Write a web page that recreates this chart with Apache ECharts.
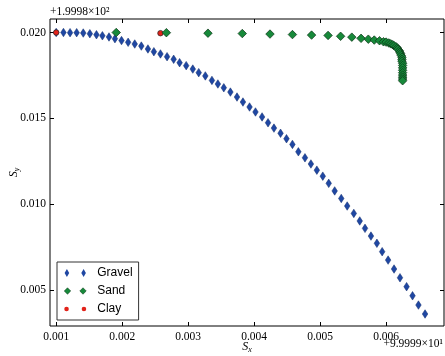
<!DOCTYPE html>
<html>
<head>
<meta charset="utf-8">
<script src="https://cdn.jsdelivr.net/npm/echarts@6/dist/echarts.min.js"></script>
<style>
  html, body { margin: 0; padding: 0; background: #fff; }
  #chart { width: 445px; height: 356px; }
</style>
</head>
<body>
<div id="chart"></div>
<script>
// values shown relative to the axis offsets (+9.9999e1 on x, +1.9998e2 on y)
const gravelX = [0.00100, 0.00111, 0.00121, 0.00131, 0.00141, 0.00151, 0.00161, 0.00170, 0.00180, 0.00189,
  0.00199, 0.00209, 0.00219, 0.00229, 0.00239, 0.00248, 0.00258, 0.00268, 0.00278, 0.00287,
  0.00297, 0.00307, 0.00316, 0.00326, 0.00336, 0.00345, 0.00354, 0.00364, 0.00374, 0.00383,
  0.00393, 0.00402, 0.00412, 0.00421, 0.00430, 0.00440, 0.00449, 0.00458, 0.00467, 0.00477,
  0.00486, 0.00495, 0.00504, 0.00513, 0.00522, 0.00532, 0.00541, 0.00551, 0.00560, 0.00568,
  0.00577, 0.00586, 0.00594, 0.00603, 0.00612, 0.00621, 0.00631, 0.00640, 0.00649, 0.00659];
const gravelY = [0.02000, 0.02000, 0.01999, 0.01999, 0.01997, 0.01993, 0.01987, 0.01981, 0.01974, 0.01964,
  0.01953, 0.01943, 0.01933, 0.01921, 0.01904, 0.01888, 0.01875, 0.01859, 0.01844, 0.01824,
  0.01807, 0.01787, 0.01766, 0.01747, 0.01721, 0.01700, 0.01678, 0.01653, 0.01624, 0.01595,
  0.01566, 0.01537, 0.01508, 0.01474, 0.01443, 0.01413, 0.01381, 0.01348, 0.01305, 0.01270,
  0.01234, 0.01198, 0.01163, 0.01121, 0.01077, 0.01033, 0.00989, 0.00946, 0.00902, 0.00859,
  0.00814, 0.00772, 0.00723, 0.00674, 0.00622, 0.00571, 0.00519, 0.00466, 0.00412, 0.00360];

const sandX = [0.00191, 0.00267, 0.00330, 0.00382, 0.00424, 0.00458, 0.00487, 0.00512, 0.00531, 0.00548,
  0.00562, 0.00573, 0.00582, 0.00590, 0.00596, 0.00600, 0.00604, 0.00607, 0.00610, 0.00612,
  0.00615, 0.00617, 0.00618, 0.00620, 0.00621, 0.00622, 0.00623, 0.00624, 0.00624, 0.00624,
  0.00625, 0.00625, 0.00625, 0.00625, 0.00625, 0.00625, 0.00625, 0.00625, 0.00625];
const sandY = [0.02000, 0.01999, 0.01996, 0.01994, 0.01991, 0.01988, 0.01985, 0.01983, 0.01978, 0.01973,
  0.01966, 0.01961, 0.01956, 0.01952, 0.01946, 0.01944, 0.01939, 0.01934, 0.01929, 0.01923,
  0.01917, 0.01910, 0.01902, 0.01894, 0.01885, 0.01876, 0.01866, 0.01856, 0.01844, 0.01833,
  0.01821, 0.01808, 0.01794, 0.01780, 0.01766, 0.01752, 0.01740, 0.01729, 0.01719];

const clayX = [0.00100, 0.00258];
const clayY = [0.02000, 0.01996];

const xTicks = [0.001, 0.002, 0.003, 0.004, 0.005, 0.006];
const yTicks = [0.005, 0.010, 0.015, 0.020];

const zip = (xs, ys) => xs.map((x, i) => [x, ys[i]]);

const serif = 'Liberation Serif';
const xRange = { min: 0.000906, max: 0.006877 };
const yRange = { min: 0.0029, max: 0.020787 };

const blue = '#1f47a3', green = '#17893a', red = '#e2231a';

const tick = (vals) => ({ show: true, inside: true, length: 4, customValues: vals,
  lineStyle: { color: '#000', width: 1 } });

const subName = (letter) => ({
  name: '{s|S}{b|' + letter + '}',
  nameLocation: 'middle',
  nameMoveOverlap: false,
  nameTextStyle: { rich: {
    s: { fontFamily: serif, fontStyle: 'italic', fontSize: 12, color: '#000' },
    b: { fontFamily: serif, fontStyle: 'italic', fontSize: 8, color: '#000', padding: [6, 0, 0, 0] },
  } },
});

const option = {
  animation: false,
  backgroundColor: '#fff',
  grid: {
    left: 50, right: 1, top: 19, bottom: 30,
    outerBoundsMode: 'none', containLabel: false,
    show: true, borderColor: '#000', borderWidth: 1, backgroundColor: '#fff',
  },
  legend: {
    orient: 'vertical',
    left: 57, top: 262,
    data: [
      { name: 'Gravel', icon: 'path://M2.3 0L4.6 4L2.3 8L0 4ZM19 0L21.3 4L19 8L16.7 4Z',
        itemStyle: { color: blue, borderWidth: 0 } },
      { name: 'Sand', icon: 'path://M3.5 0L7 3.5L3.5 7L0 3.5ZM20.2 0L23.7 3.5L20.2 7L16.7 3.5Z',
        itemStyle: { color: green, borderColor: '#0b3416', borderWidth: 0.5 } },
      { name: 'Clay', icon: 'path://M0 2.2A2.2 2.2 0 1 0 4.4 2.2A2.2 2.2 0 1 0 0 2.2ZM16.7 2.2A2.2 2.2 0 1 0 21.1 2.2A2.2 2.2 0 1 0 16.7 2.2Z',
        itemStyle: { color: red, borderWidth: 0 } },
    ],
    itemWidth: 22, itemHeight: 8, itemGap: 4,
    padding: [4, 6, 4, 7],
    borderColor: '#333', borderWidth: 1, borderRadius: 0,
    backgroundColor: '#fff',
    textStyle: { fontFamily: 'Liberation Sans', fontSize: 12, color: '#000', lineHeight: 14, padding: [0, 0, 0, 6] },
  },
  xAxis: [
    {
      type: 'value', ...xRange, position: 'bottom',
      splitLine: { show: false }, axisLine: { show: false },
      axisTick: tick(xTicks),
      axisLabel: { customValues: xTicks, margin: 5, fontFamily: serif, fontSize: 11.5, color: '#000',
        formatter: (v) => v.toFixed(3) },
      ...subName('x'), nameGap: 14,
    },
    {
      type: 'value', ...xRange, position: 'top',
      splitLine: { show: false }, axisLine: { show: false },
      axisTick: tick(xTicks), axisLabel: { show: false },
    },
  ],
  yAxis: [
    {
      type: 'value', ...yRange, position: 'left',
      splitLine: { show: false }, axisLine: { show: false },
      axisTick: tick(yTicks),
      axisLabel: { customValues: yTicks, margin: 4, fontFamily: serif, fontSize: 11.5, color: '#000',
        formatter: (v) => v.toFixed(3) },
      ...subName('y'), nameGap: 29,
    },
    {
      type: 'value', ...yRange, position: 'right',
      splitLine: { show: false }, axisLine: { show: false },
      axisTick: tick(yTicks), axisLabel: { show: false },
    },
  ],
  graphic: [
    { type: 'text', left: 50, top: 6,
      style: { text: '+1.9998×10²', fontFamily: serif, fontSize: 11.5, fill: '#000' } },
    { type: 'text', right: 2, top: 338,
      style: { text: '+9.9999×10¹', fontFamily: serif, fontSize: 11.5, fill: '#000' } },
  ],
  series: [
    {
      name: 'Gravel', type: 'scatter', data: zip(gravelX, gravelY),
      symbol: 'diamond', symbolSize: [5.5, 8.5],
      itemStyle: { color: blue, borderColor: '#14306e', borderWidth: 0.5, opacity: 1 },
    },
    {
      name: 'Clay', type: 'scatter', data: zip(clayX, clayY),
      symbol: 'circle', symbolSize: 5.5,
      itemStyle: { color: red, borderColor: '#222', borderWidth: 0.7, opacity: 1 },
    },
    {
      name: 'Sand', type: 'scatter', data: zip(sandX, sandY),
      symbol: 'diamond', symbolSize: 8.5,
      itemStyle: { color: green, borderColor: '#0b3416', borderWidth: 0.7, opacity: 1 },
    },
  ],
};

const chart = echarts.init(document.getElementById('chart'));
chart.setOption(option);
</script>
</body>
</html>
